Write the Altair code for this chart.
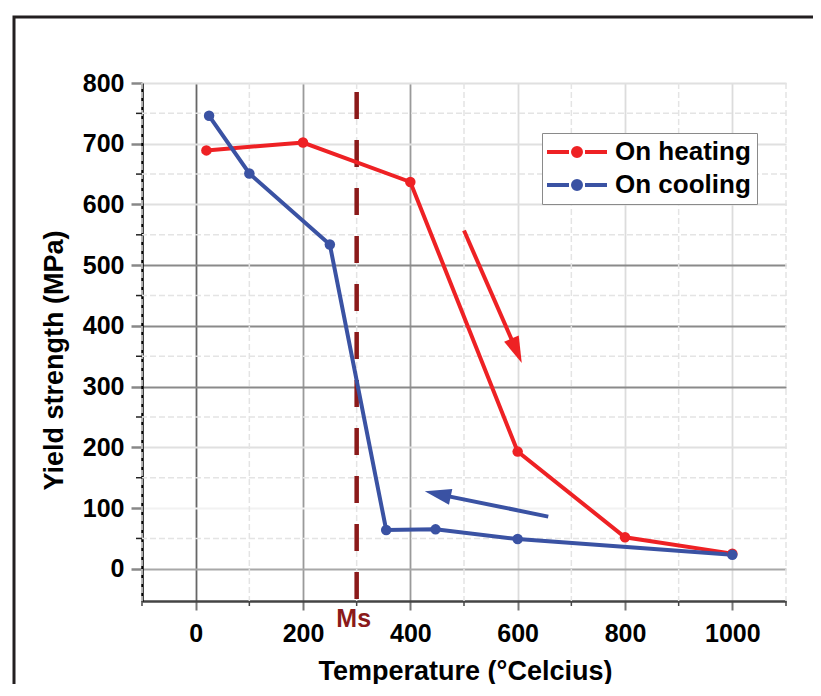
import altair as alt
import pandas as pd

# ---------------- data ----------------
series_names = ["On heating", "On cooling"]
heat_T = [20, 200, 400, 600, 800, 1000]
heat_S = [689, 702, 637, 193, 52, 25]
cool_T = [25, 100, 250, 355, 447, 600, 1000]
cool_S = [746, 651, 534, 64, 65, 49, 23]

x_major = [0, 200, 400, 600, 800, 1000]
x_minor = [-100, 100, 300, 500, 700, 900, 1100]
y_major = [0, 100, 200, 300, 400, 500, 600, 700, 800]
y_minor = [50, 150, 250, 350, 450, 550, 650, 750]

ms_T = [300]
ms_top = [785]
ms_label = ["Ms"]

arrow_series = ["On heating", "On cooling"]
arrow_T0 = [500, 657]
arrow_S0 = [557, 86]
arrow_T1 = [598, 451]
arrow_S1 = [359, 123]
arrow_dir = [157, 282]

x_title = "Temperature (°Celcius)"
y_title = "Yield strength (MPa)"

# ---------------- styles ----------------
RED = "#EE2124"
BLUE = "#3A52A3"
MS = "#8B1A1A"
FONT = "Liberation Sans"
W, H = 644, 518

df = pd.DataFrame({
    "T": heat_T + cool_T,
    "S": heat_S + cool_S,
    "series": [series_names[0]] * len(heat_T) + [series_names[1]] * len(cool_T),
})
df_xminor = pd.DataFrame({"T": x_minor})
df_yminor = pd.DataFrame({"S": y_minor})
df_ms = pd.DataFrame({"T": ms_T, "S": ms_top, "label": ms_label})
df_arrow = pd.DataFrame({"series": arrow_series, "T": arrow_T0, "S": arrow_S0,
                         "T1": arrow_T1, "S1": arrow_S1, "ang": arrow_dir})
df_one = pd.DataFrame({"a": [0]})

xs = alt.Scale(domain=[-100, 1100], nice=False, zero=False)
ys = alt.Scale(domain=[-53, 800], nice=False, zero=False)
cs = alt.Scale(domain=series_names, range=[RED, BLUE])

x_axis = alt.Axis(
    values=x_major, title=x_title, grid=True, format="d",
    gridColor={"condition": [{"test": "datum.value === 0", "value": "#666666"},
                             {"test": "datum.value <= 400", "value": "#9a9a9a"}],
               "value": "#dcdcdc"},
    gridWidth=1.8,
    domainColor="#444444", domainWidth=2.5,
    tickColor="#777777", tickWidth=2, tickSize=9,
    labelFont=FONT, labelFontSize=25, labelFontWeight="bold", labelColor="black",
    labelPadding=11,
    titleFont=FONT, titleFontSize=27, titleFontWeight="bold", titleColor="black",
    titleX=323, titleY=70, titleBaseline="middle", titleAlign="center",
)
y_axis = alt.Axis(
    values=y_major, title=y_title, grid=True,
    gridColor={"condition": [{"test": "datum.value === 0", "value": "#a8a8a8"},
                             {"test": "datum.value === 100", "value": "#f2f2f2"},
                             {"test": "datum.value >= 300 && datum.value <= 500", "value": "#8a8a8a"}],
               "value": "#e0e0e0"},
    gridWidth=1.8,
    domainColor="black", domainWidth=2.5,
    tickColor="#888888", tickWidth=2.5, tickSize=11,
    labelFont=FONT, labelFontSize=25, labelFontWeight="bold", labelColor="black",
    labelPadding=7,
    titleFont=FONT, titleFontSize=27, titleFontWeight="bold", titleColor="black",
    titleX=-88, titleY=277, titleAngle=270, titleBaseline="middle", titleAlign="center",
)

legend_symbol = (
    "M-1.4,0H0.8M2.4,0H4.6"
    "M1.7,0A0.1,0.1,0,1,1,1.5,0A0.1,0.1,0,1,1,1.7,0"
    "M1.85,0A0.25,0.25,0,1,1,1.35,0A0.25,0.25,0,1,1,1.85,0"
    "M2,0A0.4,0.4,0,1,1,1.2,0A0.4,0.4,0,1,1,2,0"
)
legend = alt.Legend(
    orient="none", legendX=400, legendY=50, title=None,
    padding=6, strokeColor="#8a8a8a", fillColor="white",
    symbolType=legend_symbol, symbolSize=400, symbolStrokeWidth=4,
    labelFont=FONT, labelFontSize=26, labelFontWeight="bold", labelColor="black",
    labelOffset=41, rowPadding=7,
)

frame = alt.Chart(df_one).mark_rect(fillOpacity=0, stroke="#231F20", strokeWidth=3).encode(
    x=alt.value(-128), x2=alt.value(720), y=alt.value(-66), y2=alt.value(700)
)

x_minor_grid = alt.Chart(df_xminor).mark_rule(color="#e4e4e4", strokeWidth=1.5, strokeDash=[6, 3]).encode(
    x=alt.X("T:Q", scale=xs, axis=x_axis)
)
y_minor_grid = alt.Chart(df_yminor).mark_rule(color="#e4e4e4", strokeWidth=1.5, strokeDash=[6, 3]).encode(
    y=alt.Y("S:Q", scale=ys, axis=y_axis)
)
x_minor_ticks = alt.Chart(df_xminor).mark_rule(color="#444444", strokeWidth=1.5).encode(
    x=alt.X("T:Q", scale=xs, axis=x_axis), y=alt.value(H), y2=alt.value(H + 5)
)
y_minor_ticks = alt.Chart(df_yminor).mark_rule(color="#222222", strokeWidth=1.5).encode(
    y=alt.Y("S:Q", scale=ys, axis=y_axis), x=alt.value(-6), x2=alt.value(0)
)

ms_line = alt.Chart(df_ms).mark_rule(color=MS, strokeWidth=4.5, strokeDash=[27, 21]).encode(
    x=alt.X("T:Q", scale=xs, axis=x_axis), y=alt.Y("S:Q", scale=ys, axis=y_axis), y2=alt.value(H)
)
ms_text = alt.Chart(df_ms).mark_text(color=MS, font=FONT, fontSize=25, fontWeight="bold",
                                     baseline="middle", align="center", dx=-3).encode(
    x=alt.X("T:Q", scale=xs, axis=x_axis), y=alt.value(H + 18), text="label:N"
)

lines = alt.Chart(df).mark_line(strokeWidth=4).encode(
    x=alt.X("T:Q", scale=xs, axis=x_axis),
    y=alt.Y("S:Q", scale=ys, axis=y_axis),
    color=alt.Color("series:N", scale=cs, legend=legend),
    order=alt.Order("T:Q"),
)
points = alt.Chart(df).mark_circle(size=110, opacity=1).encode(
    x=alt.X("T:Q", scale=xs, axis=x_axis),
    y=alt.Y("S:Q", scale=ys, axis=y_axis),
    color=alt.Color("series:N", scale=cs, legend=None),
)

arrow_shafts = alt.Chart(df_arrow).mark_rule(strokeWidth=4).encode(
    x=alt.X("T:Q", scale=xs, axis=x_axis), y=alt.Y("S:Q", scale=ys, axis=y_axis),
    x2="T1:Q", y2="S1:Q",
    color=alt.Color("series:N", scale=cs, legend=None),
)
arrow_heads = alt.Chart(df_arrow).mark_point(shape="M0,-1L0.6,1L-0.6,1Z", filled=True, size=700, opacity=1).encode(
    x=alt.X("T1:Q", scale=xs, axis=x_axis), y=alt.Y("S1:Q", scale=ys, axis=y_axis),
    angle=alt.Angle("ang:Q", scale=None),
    color=alt.Color("series:N", scale=cs, legend=None),
)

chart = alt.layer(
    frame, x_minor_grid, y_minor_grid, x_minor_ticks, y_minor_ticks,
    ms_line, lines, points, arrow_shafts, arrow_heads, ms_text,
).properties(
    width=W, height=H,
    padding={"left": 134, "top": 75, "right": 27, "bottom": 83},
    autosize=alt.AutoSizeParams(type="none"),
    background="white",
).configure_view(stroke="transparent")

chart.save("out.html", embed_options={"renderer": "svg", "actions": False})
